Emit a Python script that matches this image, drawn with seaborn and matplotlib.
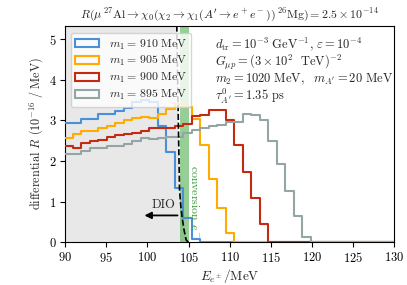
import matplotlib
matplotlib.use("Agg")
import matplotlib.pyplot as plt
from matplotlib.patches import Patch
import numpy as np
import pandas as pd
import seaborn as sns

# common bin grid of the histograms (MeV)
BIN_START = 89.91
BIN_WIDTH = 1.033
N_BINS = 39

masses = [910, 905, 900, 895]
colors = ["#4a90d9", "#ffab00", "#c42a12", "#95a5a6"]

rate_910 = [2.93, 2.93, 3.04, 3.04, 3.15, 3.15, 3.22, 3.30, 3.46, 3.49, 3.46,
            2.87, 2.23, 1.33, 0.59, 0.07]
rate_905 = [2.56, 2.66, 2.74, 2.74, 2.81, 2.86, 2.93, 3.01, 3.05, 3.09, 3.05,
            3.16, 3.27, 3.40, 3.34, 3.03, 2.40, 1.56, 0.84, 0.22]
rate_900 = [2.38, 2.31, 2.44, 2.48, 2.52, 2.58, 2.63, 2.66, 2.70, 2.74, 2.80,
            2.80, 2.80, 2.85, 2.91, 3.10, 3.12, 3.26, 3.26, 3.01, 2.40, 1.72,
            1.08, 0.44]
rate_895 = [2.17, 2.17, 2.25, 2.31, 2.31, 2.37, 2.37, 2.41, 2.48, 2.56, 2.54,
            2.57, 2.59, 2.60, 2.70, 2.77, 2.80, 2.85, 2.88, 2.97, 2.97, 3.15,
            3.12, 3.02, 2.48, 1.93, 1.27, 0.65, 0.14]
rates = [rate_910, rate_905, rate_900, rate_895]

# DIO spectrum near its endpoint
dio_energy = [90.0, 103.3, 103.57, 103.77, 103.9, 104.05, 104.2, 104.45, 104.7, 104.97]
dio_rate = [1000, 12, 5.3, 2.76, 1.28, 0.9, 0.63, 0.3, 0.06, 0.0]

conv_band = (104.0, 105.0)

sns.set_style("ticks")
plt.rcParams["font.family"] = "serif"
plt.rcParams["font.serif"] = ["cmr10"]
plt.rcParams["mathtext.fontset"] = "cm"
plt.rcParams["axes.formatter.use_mathtext"] = True
plt.rcParams["axes.unicode_minus"] = False

fig = plt.figure(figsize=(4.07, 2.85), dpi=100)
ax = fig.add_axes([0.16, 0.15, 0.809, 0.76])

ax.fill_between(dio_energy, 0, dio_rate, color="#e8e8e8", lw=0, zorder=0)
ax.axvspan(*conv_band, color="tab:green", alpha=0.5, lw=0, zorder=1)

edges = BIN_START + BIN_WIDTH * np.arange(N_BINS + 1)
centers = 0.5 * (edges[:-1] + edges[1:])
for m, c, r in zip(masses, colors, rates):
    w = np.pad(np.array(r, dtype=float), (0, N_BINS - len(r)))
    df = pd.DataFrame({"E": centers, "R": w})
    sns.histplot(data=df, x="E", weights="R", bins=list(edges), element="step",
                 fill=False, color=c, lw=1.5, ax=ax, zorder=3)

ax.plot(dio_energy, dio_rate, "k--", lw=1.2, zorder=4)

ax.annotate("", xy=(99.3, 0.66), xytext=(104.0, 0.66),
            arrowprops=dict(arrowstyle="-|>", color="k", lw=1.3), zorder=5)
ax.text(102.0, 0.93, "DIO", ha="center", va="center", fontsize=9)
ax.text(105.75, 1.9, r"conversion $e^-$", rotation=-90, ha="center", va="top",
        color="#3a9a3a", fontsize=8.5)

info = (r"$d_{\rm tr} = 10^{-3}\ {\rm GeV}^{-1},\, \varepsilon = 10^{-4}$" "\n"
        r"$G_{\mu p} = (3\times 10^2\ \ {\rm TeV})^{-2}$" "\n"
        r"$m_2 = 1020\ {\rm MeV},\ \ m_{A'} = 20\ {\rm MeV}$" "\n"
        r"$\tau^0_{A'} = 1.35\ {\rm ps}$")
ax.text(0.455, 0.955, info, transform=ax.transAxes, ha="left", va="top",
        fontsize=9, linespacing=1.0)

handles = [Patch(facecolor="none", edgecolor=c, lw=1.5) for c in colors]
labels = [rf"$m_1 =\, {m}\ \mathrm{{MeV}}$" for m in masses]
ax.legend(handles, labels, loc="upper left", bbox_to_anchor=(0.01, 0.978),
          fontsize=8.5, framealpha=0.8, borderaxespad=0.2, labelspacing=0.25,
          borderpad=0.4, handletextpad=0.8)

ax.set_xlim(90, 130)
ax.set_ylim(0, 5.33)
ax.set_xticks(range(90, 131, 5))
ax.set_yticks(range(0, 6))
ax.tick_params(labelsize=9, length=3.5, width=0.8, colors="k", pad=2.5)
for s in ax.spines.values():
    s.set_visible(True)
    s.set_color("k")
    s.set_linewidth(0.8)
ax.set_xlabel(r"$E_{e^\pm}/{\rm MeV}$", fontsize=9.5, labelpad=2)
ax.set_ylabel(r"differential $R$ $(10^{-16}\ /\ {\rm MeV})$", fontsize=8.8, labelpad=3)
ax.set_title(r"$R(\mu\,^{27}{\rm Al}\to\chi_0(\chi_2\to\chi_1(A'\to e^+e^-))\,^{26}{\rm Mg}) = 2.5\times10^{-14}$",
             fontsize=8.6, pad=5)

fig.savefig("out.png", dpi=100)
